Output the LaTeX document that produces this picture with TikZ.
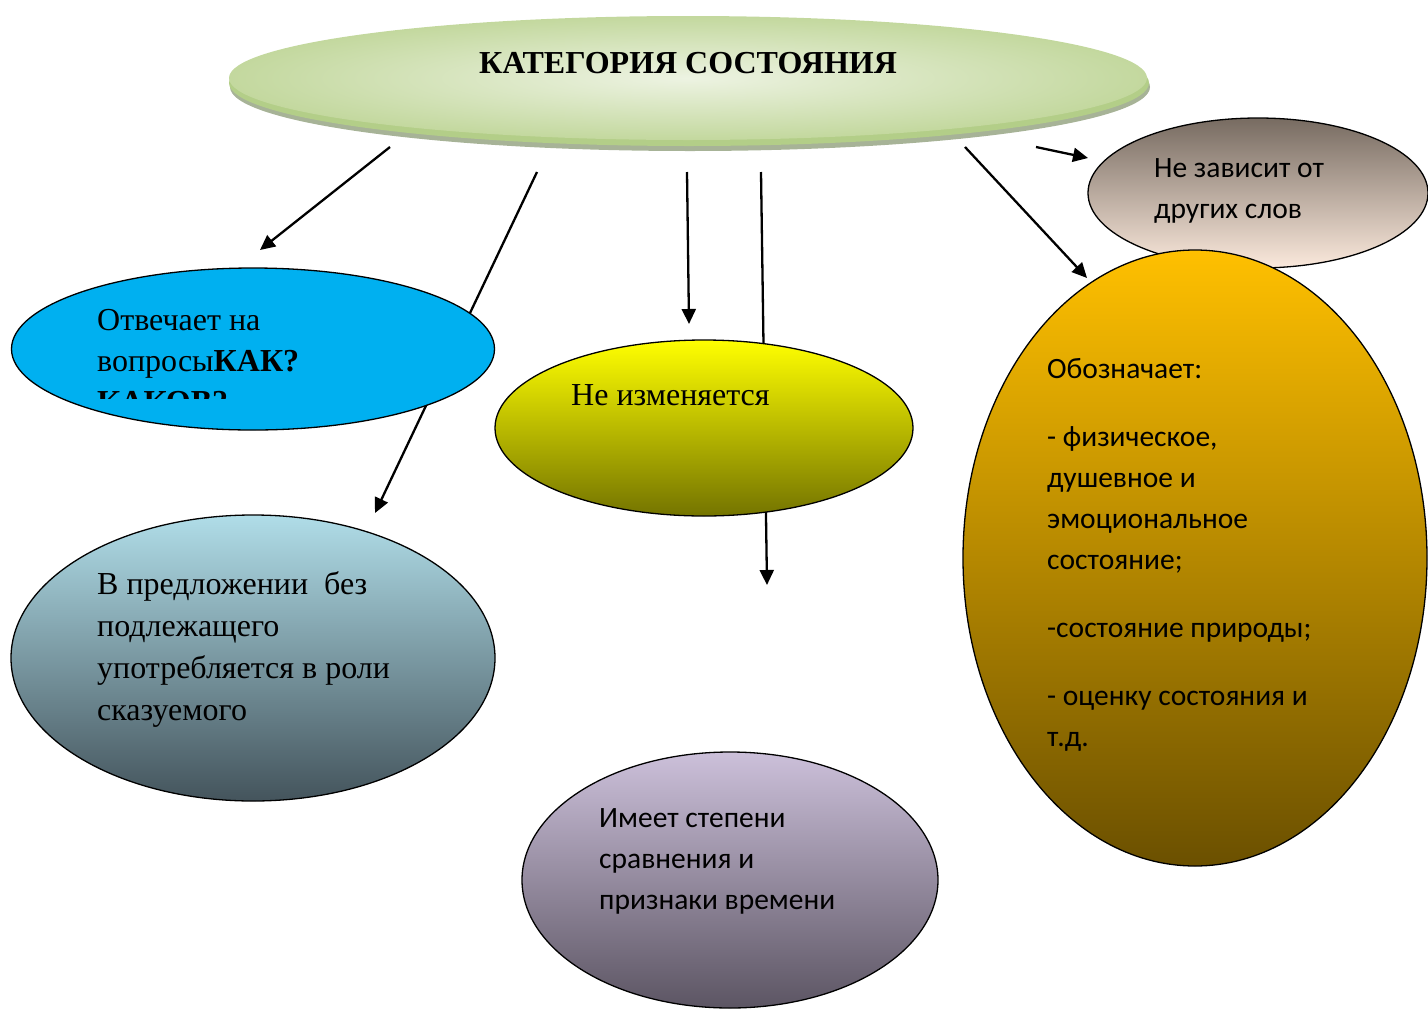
\documentclass[tikz,border=0pt]{standalone}
\usepackage{fontspec}
\setmainfont{Liberation Serif}
\newfontfamily\calibfont{Carlito}
\usetikzlibrary{shapes.geometric,arrows.meta}
\pgfdeclarelayer{bg}
\pgfsetlayers{bg,main}
\definecolor{rim}{HTML}{B3CE88}
\definecolor{rimshadow}{HTML}{A7B397}
\definecolor{tout}{HTML}{C3D89E}
\definecolor{tmid}{HTML}{EDF3E2}
\definecolor{cyanb}{HTML}{00B0F0}
\definecolor{yeltop}{HTML}{FFFF00}
\definecolor{yelbot}{HTML}{747400}
\definecolor{lbtop}{HTML}{B0DDE8}
\definecolor{lbbot}{HTML}{44545C}
\definecolor{putop}{HTML}{CCC0DA}
\definecolor{pubot}{HTML}{5C5563}
\definecolor{brtop}{HTML}{776B61}
\definecolor{brbot}{HTML}{FBE9DC}
\definecolor{gotop}{HTML}{FFC000}
\definecolor{gobot}{HTML}{6B5000}
\begin{document}
\begin{tikzpicture}[x=1pt,y=-1pt,
  oval/.style={ellipse, draw=black, line width=1.3pt, inner sep=0pt, shading=axis},
  conn/.style={line width=2.3pt, -{Triangle[length=15pt,width=14pt]}},
  txt/.style={anchor=base west, inner sep=0pt},
]
\useasboundingbox (0,0) rectangle (1428,1010);

% title
\node[ellipse, fill=rimshadow, minimum width=920pt, minimum height=128pt, inner sep=0pt] (titleshadow) at (690,87) {};
\node[ellipse, fill=rim, minimum width=920pt, minimum height=126pt, inner sep=0pt] (titlerim) at (689,83) {};
\node[ellipse, inner sep=0pt, minimum width=918pt, minimum height=124pt,
      shading=radial, inner color=tmid, outer color=tout] (title) at (688,78) {};
\node[anchor=base, inner sep=0pt, font=\bfseries\fontsize{32}{38}\selectfont] (titletext) at (688,73) {КАТЕГОРИЯ СОСТОЯНИЯ};

% brown ellipse
\node[oval, top color=brtop, bottom color=brbot, minimum width=340pt, minimum height=150pt] (indep) at (1258,193) {};
\node[txt] (indeptext) at (1154,177) {\parbox[t]{270pt}{\calibfont\fontsize{29.5}{41}\selectfont Не зависит от\\других слов}};

% coordinates for connectors
\coordinate (a1) at (390,147); \coordinate (a2) at (260,250);
\coordinate (b1) at (537,172); \coordinate (b2) at (375,513);
\coordinate (c1) at (687,172); \coordinate (c2) at (689,324);
\coordinate (d1) at (761,172); \coordinate (d2) at (767,585);
\coordinate (e1) at (965,147); \coordinate (e2) at (1087,278);
\coordinate (f1) at (1036,147); \coordinate (f2) at (1088,158);

\begin{pgfonlayer}{bg}
\draw[conn] (b1) -- (b2);
\draw[conn] (d1) -- (d2);
\end{pgfonlayer}

% blue ellipse
\node[ellipse, draw=black, line width=1.3pt, inner sep=0pt, fill=cyanb, minimum width=483pt, minimum height=162pt] (answers) at (253,349) {};
\begin{scope}
\clip (0,0) rectangle (1428,398);
\node[txt] (answerstext) at (97,330) {\parbox[t]{400pt}{\fontsize{32}{41}\selectfont Отвечает на\\вопросы\textbf{КАК?}\\\textbf{КАКОВ?}}};
\end{scope}

% yellow ellipse
\node[oval, top color=yeltop, bottom color=yelbot, minimum width=418pt, minimum height=176pt] (nochange) at (704,428) {};
\node[txt] (nochangetext) at (571,405) {\fontsize{32}{42}\selectfont Не изменяется};

% light blue ellipse
\node[oval, top color=lbtop, bottom color=lbbot, minimum width=484pt, minimum height=286pt] (predicate) at (253,658) {};
\node[txt] (predicatetext) at (97,594) {\parbox[t]{400pt}{\fontsize{32}{42}\selectfont В предложении\ \ без\\подлежащего\\употребляется в роли\\сказуемого}};

% purple ellipse
\node[oval, top color=putop, bottom color=pubot, minimum width=416pt, minimum height=256pt] (degrees) at (730,880) {};
\node[txt] (degreestext) at (599,827) {\parbox[t]{330pt}{\calibfont\fontsize{29.5}{41}\selectfont Имеет степени\\сравнения и\\признаки времени}};

% gold ellipse
\node[oval, top color=gotop, bottom color=gobot, minimum width=464pt, minimum height=616pt] (means) at (1195,558) {};
\node[txt] (meanstext) at (1047,378) {\parbox[t]{370pt}{\calibfont\fontsize{29.5}{41}\selectfont Обозначает:\\[27pt]- физическое,\\душевное и\\эмоциональное\\состояние;\\[27pt]-состояние природы;\\[27pt]- оценку состояния и\\т.д.}};

% remaining connectors
\draw[conn] (a1) -- (a2);
\draw[conn] (c1) -- (c2);
\draw[conn] (e1) -- (e2);
\draw[conn] (f1) -- (f2);
\end{tikzpicture}
\end{document}
